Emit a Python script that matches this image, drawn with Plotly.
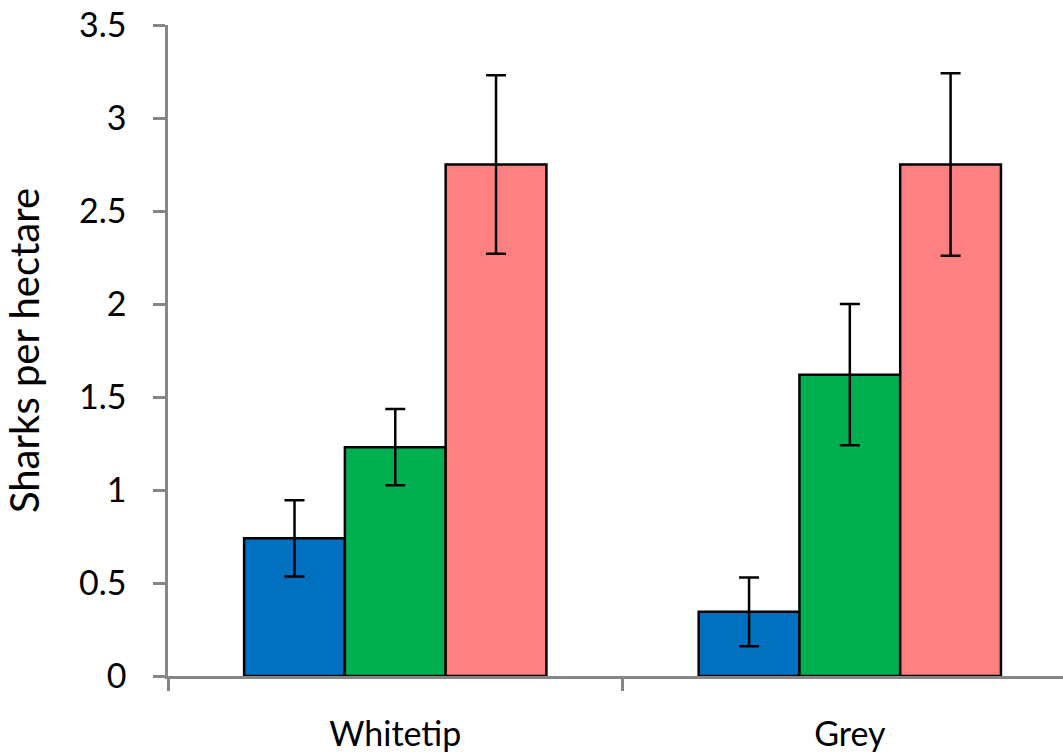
import plotly.graph_objects as go

categories = ["Whitetip", "Grey"]
series_names = ["Series A", "Series B", "Series C"]
series_values = [
    [0.74, 0.345],
    [1.23, 1.62],
    [2.75, 2.75],
]
series_errors = [
    [0.205, 0.185],
    [0.205, 0.38],
    [0.48, 0.49],
]
series_colors = ["#0070C0", "#00B050", "#FF8080"]
y_ticks = [0, 0.5, 1, 1.5, 2, 2.5, 3, 3.5]
y_ticklabels = ["0", "0.5", "1", "1.5", "2", "2.5", "3", "3.5"]

FONT = "Lato"

fig = go.Figure()
for name, vals, errs, col in zip(series_names, series_values, series_errors, series_colors):
    fig.add_trace(go.Bar(
        x=categories, y=vals, name=name,
        marker=dict(color=col, line=dict(color="black", width=2.5)),
        error_y=dict(type="data", array=errs, visible=True, color="black",
                     thickness=2.5, width=10),
    ))

fig.update_layout(
    width=1063, height=756,
    margin=dict(l=168, r=0, t=25, b=80),
    plot_bgcolor="white", paper_bgcolor="white",
    barmode="group", bargap=0.335, bargroupgap=0,
    showlegend=False,
    font=dict(family=FONT, size=34, color="black"),
)
fig.update_xaxes(
    type="category", range=[-0.5, 1.469], automargin=False,
    showline=True, linecolor="#868686", linewidth=2.5,
    ticks="outside", tickson="boundaries", ticklen=12, tickwidth=2.5, tickcolor="#868686",
    tickfont=dict(family=FONT, size=34), ticklabelstandoff=26,
    ticklabeloverflow="allow",
    showgrid=False, zeroline=False,
)
fig.update_yaxes(
    range=[0, 3.5], tickvals=y_ticks, ticktext=y_ticklabels, automargin=False,
    showline=True, linecolor="#868686", linewidth=2.5,
    ticks="outside", ticklen=12, tickwidth=2.5, tickcolor="#868686",
    tickfont=dict(family=FONT, size=34), ticklabelstandoff=20,
    ticklabeloverflow="allow",
    showgrid=False, zeroline=False,
    title=dict(text="Sharks per hectare", font=dict(family=FONT, size=40), standoff=35),
)

fig.write_html("out.html", config={"displayModeBar": False},
               post_script="document.body.style.margin='0';")
